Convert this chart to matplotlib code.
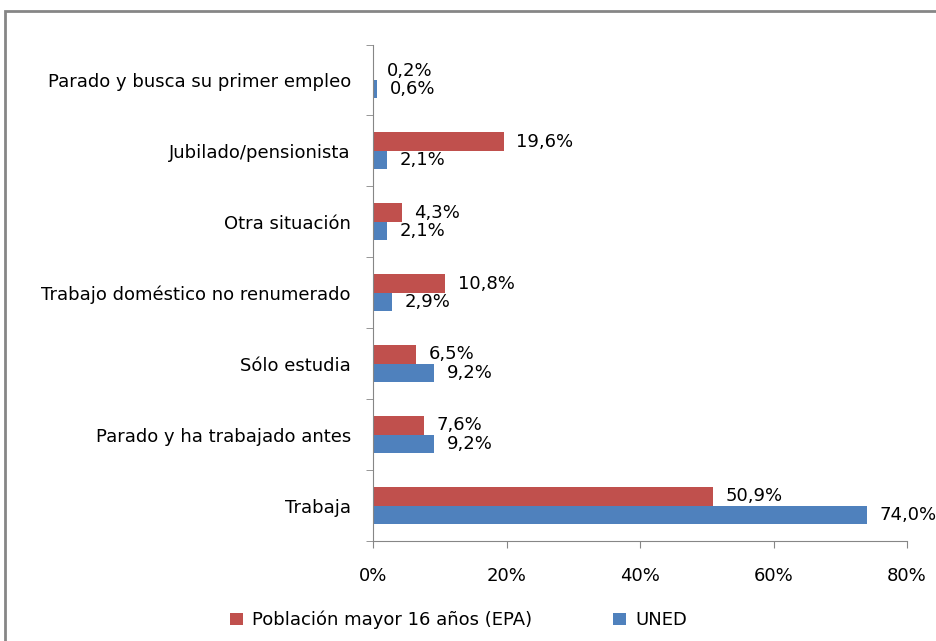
import matplotlib
matplotlib.use("Agg")
import matplotlib.pyplot as plt
from matplotlib.patches import Rectangle
import numpy as np

# categories from bottom to top
categorias = ["Trabaja", "Parado y ha trabajado antes", "Sólo estudia",
              "Trabajo doméstico no renumerado", "Otra situación",
              "Jubilado/pensionista", "Parado y busca su primer empleo"]
epa = [50.9, 7.6, 6.5, 10.8, 4.3, 19.6, 0.2]
uned = [74.0, 9.2, 9.2, 2.9, 2.1, 2.1, 0.6]
xticks = [0, 20, 40, 60, 80]

rojo = "#C0504D"
azul = "#4F81BD"
gris = "#868686"

fig = plt.figure(figsize=(9.36, 6.41), dpi=100)
ax = fig.add_axes([373 / 936, 1 - 541 / 641, (907 - 373) / 936, (541 - 44.5) / 641])

y = np.arange(len(categorias))
h = 0.26
b1 = ax.barh(y + 0.13, epa, height=h, color=rojo, label="Población mayor 16 años (EPA)")
b2 = ax.barh(y - 0.13, uned, height=h, color=azul, label="UNED")

def etiqueta(v):
    return f"{v:.1f}%".replace(".", ",")

for yy, v in zip(y + 0.13, epa):
    ax.annotate(etiqueta(v), (v, yy), xytext=(9, 0), textcoords="offset points",
                va="center", ha="left", fontsize=13, color="black")
for yy, v in zip(y - 0.13, uned):
    ax.annotate(etiqueta(v), (v, yy), xytext=(9, 0), textcoords="offset points",
                va="center", ha="left", fontsize=13, color="black")

ax.set_xlim(0, 80)
ax.set_ylim(-0.5, len(categorias) - 0.5)
ax.set_xticks(xticks)
ax.set_xticklabels([f"{t}%" for t in xticks], fontsize=13)
ax.set_yticks(y)
ax.set_yticklabels(categorias, fontsize=13)
ax.set_yticks(np.arange(len(categorias) + 1) - 0.5, minor=True)
ax.tick_params(axis="y", which="major", length=0, pad=16)
ax.tick_params(axis="y", which="minor", length=5, color=gris)
ax.tick_params(axis="x", which="major", length=5, color=gris, pad=14)

for s in ["top", "right"]:
    ax.spines[s].set_visible(False)
ax.spines["left"].set_color(gris)
ax.spines["bottom"].set_color(gris)

fig.legend(handles=[b1, b2], loc="center", bbox_to_anchor=(0.49, 1 - 620 / 641),
           ncol=2, frameon=False, fontsize=13, handlelength=0.7, handleheight=0.7,
           columnspacing=4.5, handletextpad=0.5)

fig.patches.append(Rectangle((5 / 936, -0.05), 1.1, 1 - 11 / 641 + 0.05,
                             transform=fig.transFigure, fill=False,
                             edgecolor=gris, linewidth=2))

fig.savefig("out.png", dpi=100)
